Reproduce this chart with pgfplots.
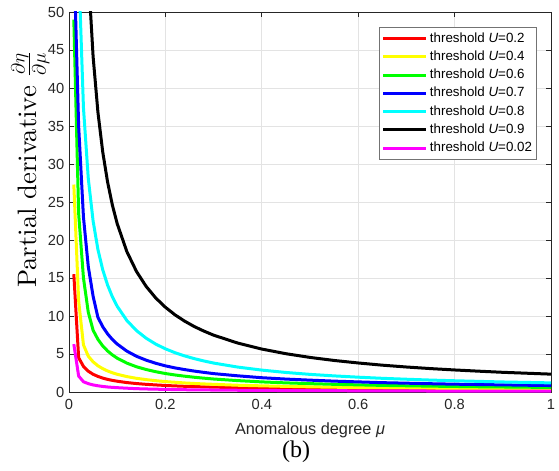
\documentclass[border=0pt]{standalone}
\usepackage{fontspec}
\setsansfont{Liberation Sans}
\newfontfamily\timesf{Liberation Serif}
\newfontfamily\cmten{lmroman10-regular}[Extension=.otf]
\usepackage{pgfplots}
\pgfplotsset{compat=1.18}

\definecolor{axgray}{gray}{0.15}
\definecolor{mRed}{rgb}{1,0,0}
\definecolor{mYellow}{rgb}{1,1,0}
\definecolor{mGreen}{rgb}{0,1,0}
\definecolor{mBlue}{rgb}{0,0,1}
\definecolor{mCyan}{rgb}{0,1,1}
\definecolor{mMagenta}{rgb}{1,0,1}

\begin{document}
\begin{tikzpicture}
  % page = 559 x 470 px, 1px = 0.75pt, axis box corner at (69,392) px
  \path[use as bounding box] (-51.75pt,-58.5pt) rectangle (367.5pt,294pt);
  \begin{axis}[
      name=ax,
      scale only axis,
      width=361.5pt, height=285pt,
      xmin=0, xmax=1, ymin=0, ymax=50,
      xtick={0,0.2,...,1}, ytick={0,5,...,50},
      xticklabels={0,0.2,0.4,0.6,0.8,1},
      grid=major,
      major grid style={gray!22, line width=0.5pt},
      axis line style={axgray, line width=0.6pt},
      tick style={axgray, line width=0.6pt},
      tick align=inside,
      major tick length=4pt,
      /pgf/number format/assume math mode=true,
      tick label style={font=\sffamily\fontsize{11}{13}\selectfont, text=axgray},
      xticklabel style={yshift=-2pt},
      xlabel={Anomalous degree \textit{μ}},
      xlabel style={font=\sffamily\fontsize{12.2}{14}\selectfont, text=axgray,
        at={(axis description cs:0.5,-0.1)}, anchor=center},
      ylabel={Partial derivative $\frac{\partial\eta}{\partial\mu}$},
      ylabel style={font=\cmten\fontsize{20}{22}\selectfont,
        at={(axis description cs:-0.08,0.585)}, anchor=center},
      legend cell align=left,
      legend style={
        at={(0.971,0.9605)}, anchor=north east,
        draw=black!55, line width=0.6pt, fill=white,
        font=\sffamily\fontsize{10}{12}\selectfont,
        inner sep=1.5pt, row sep=0pt,
        nodes={inner sep=2pt, text height=7.5pt, text depth=2.2pt},
      },
      legend image code/.code={\draw[#1, line width=2.25pt] (0pt,0pt) -- (32pt,0pt);},
      every axis plot/.append style={line width=2.25pt, line join=round},
    ]
    % U = 0.2
    \addplot[mRed] coordinates {
      (0.01,15.5) (0.02,4.51) (0.03,3.37) (0.04,2.74) (0.05,2.33) (0.06,2.05)
      (0.07,1.83) (0.08,1.66) (0.09,1.53) (0.1,1.42) (0.12,1.24) (0.14,1.11)
      (0.16,1.01) (0.18,0.93) (0.2,0.86) (0.22,0.80) (0.24,0.75) (0.26,0.71)
      (0.28,0.68) (0.3,0.64) (0.35,0.58) (0.4,0.52) (0.45,0.48) (0.5,0.44)
      (0.55,0.42) (0.6,0.39) (0.65,0.37) (0.7,0.35) (0.75,0.33) (0.8,0.32)
      (0.85,0.30) (0.9,0.29) (0.95,0.28) (1.0,0.27)
    };
    % U = 0.4
    \addplot[mYellow] coordinates {
      (0.01,27.3) (0.02,12.0) (0.03,6.2) (0.04,4.71) (0.05,3.97) (0.06,3.45)
      (0.07,3.07) (0.08,2.77) (0.09,2.53) (0.1,2.33) (0.12,2.03) (0.14,1.80)
      (0.16,1.63) (0.18,1.49) (0.2,1.37) (0.22,1.28) (0.24,1.19) (0.26,1.12)
      (0.28,1.06) (0.3,1.01) (0.35,0.89) (0.4,0.81) (0.45,0.74) (0.5,0.68)
      (0.55,0.63) (0.6,0.59) (0.65,0.56) (0.7,0.53) (0.75,0.50) (0.8,0.47)
      (0.85,0.45) (0.9,0.43) (0.95,0.42) (1.0,0.40)
    };
    % U = 0.6
    \addplot[mGreen] coordinates {
      (0.01,49.0) (0.02,23.5) (0.03,15.0) (0.04,10.5) (0.05,8.13) (0.06,6.93)
      (0.07,6.06) (0.08,5.40) (0.09,4.88) (0.1,4.45) (0.12,3.80) (0.14,3.32)
      (0.16,2.96) (0.18,2.67) (0.2,2.43) (0.22,2.24) (0.24,2.08) (0.26,1.94)
      (0.28,1.82) (0.3,1.71) (0.35,1.50) (0.4,1.33) (0.45,1.20) (0.5,1.10)
      (0.55,1.01) (0.6,0.94) (0.65,0.87) (0.7,0.82) (0.75,0.77) (0.8,0.73)
      (0.85,0.69) (0.9,0.66) (0.95,0.63) (1.0,0.60)
    };
    % U = 0.7
    \addplot[mBlue] coordinates {
      (0.01,58) (0.02,35) (0.03,23) (0.04,16.5) (0.05,12.6) (0.06,9.82)
      (0.07,8.59) (0.08,7.65) (0.09,6.91) (0.1,6.31) (0.12,5.38) (0.14,4.70)
      (0.16,4.19) (0.18,3.78) (0.2,3.44) (0.22,3.17) (0.24,2.95) (0.26,2.75)
      (0.28,2.58) (0.3,2.42) (0.35,2.13) (0.4,1.88) (0.45,1.70) (0.5,1.56)
      (0.55,1.43) (0.6,1.33) (0.65,1.23) (0.7,1.16) (0.75,1.09) (0.8,1.03)
      (0.85,0.98) (0.9,0.94) (0.95,0.89) (1.0,0.85)
    };
    % U = 0.8
    \addplot[mCyan] coordinates {
      (0.01,112) (0.02,56.1) (0.03,37.4) (0.04,28.1) (0.05,22.5) (0.06,18.75)
      (0.07,16.08) (0.08,14.08) (0.09,12.52) (0.1,11.28) (0.12,9.41) (0.14,8.08)
      (0.16,7.08) (0.18,6.30) (0.2,5.68) (0.22,5.17) (0.24,4.75) (0.26,4.39)
      (0.28,4.08) (0.3,3.81) (0.35,3.28) (0.4,2.88) (0.45,2.57) (0.5,2.32)
      (0.55,2.12) (0.6,1.95) (0.65,1.80) (0.7,1.68) (0.75,1.57) (0.8,1.48)
      (0.85,1.40) (0.9,1.32) (0.95,1.26) (1.0,1.20)
    };
    % U = 0.9
    \addplot[black] coordinates {
      (0.04,55.15) (0.05,44.15) (0.06,36.82) (0.07,31.58) (0.08,27.65)
      (0.09,24.59) (0.1,22.15) (0.12,18.48) (0.14,15.86) (0.16,13.9)
      (0.18,12.37) (0.2,11.15) (0.22,10.15) (0.24,9.32) (0.26,8.61)
      (0.28,8.01) (0.3,7.48) (0.35,6.44) (0.4,5.65) (0.45,5.04) (0.5,4.55)
      (0.55,4.15) (0.6,3.82) (0.65,3.53) (0.7,3.29) (0.75,3.08) (0.8,2.9)
      (0.85,2.74) (0.9,2.59) (0.95,2.47) (1.0,2.35)
    };
    % U = 0.02
    \addplot[mMagenta] coordinates {
      (0.01,6.3) (0.02,2.1) (0.03,1.35) (0.04,1.10) (0.05,0.93) (0.06,0.82)
      (0.07,0.73) (0.08,0.66) (0.09,0.61) (0.1,0.57) (0.12,0.50) (0.14,0.44)
      (0.16,0.40) (0.18,0.37) (0.2,0.34) (0.22,0.32) (0.24,0.30) (0.26,0.28)
      (0.28,0.27) (0.3,0.26) (0.35,0.23) (0.4,0.21) (0.45,0.19) (0.5,0.18)
      (0.55,0.17) (0.6,0.16) (0.65,0.15) (0.7,0.14) (0.75,0.13) (0.8,0.13)
      (0.85,0.12) (0.9,0.12) (0.95,0.11) (1.0,0.11)
    };
    \legend{threshold \textit{U}=0.2, threshold \textit{U}=0.4,
      threshold \textit{U}=0.6, threshold \textit{U}=0.7,
      threshold \textit{U}=0.8, threshold \textit{U}=0.9,
      threshold \textit{U}=0.02}
  \end{axis}
  \node[font=\timesf\fontsize{18}{20}\selectfont] at (170.25pt,-45pt) {(b)};
\end{tikzpicture}
\end{document}
